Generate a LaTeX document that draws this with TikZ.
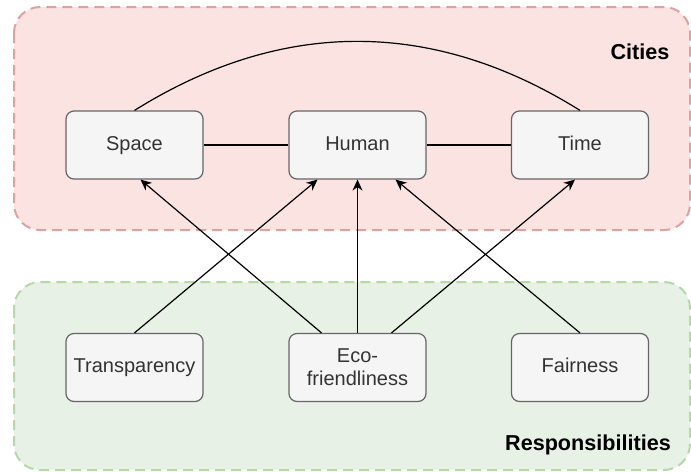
\documentclass[tikz,border=0pt]{standalone}
\usepackage{xcolor}
\usepackage{fontspec}
\setmainfont{Liberation Sans}
\usepackage{tikz}
\usetikzlibrary{arrows.meta, calc}
\definecolor{boxfill}{HTML}{F5F5F5}
\definecolor{boxline}{HTML}{666666}
\definecolor{boxtext}{HTML}{333333}
\definecolor{cityfill}{HTML}{FBE3E2}
\definecolor{cityline}{HTML}{DAA3A1}
\definecolor{respfill}{HTML}{E7F1E5}
\definecolor{respline}{HTML}{B7D7A8}
\tikzset{box/.style={draw=boxline, fill=boxfill, text=boxtext, rounded corners=4pt, minimum width=68.5pt, minimum height=34pt, line width=0.6pt, align=center, inner sep=1pt, text height=7.2pt, text depth=2pt, font=\fontsize{10}{11.5}\selectfont}}
\tikzset{grp/.style={rounded corners=13pt, line width=1pt, dash pattern=on 5pt off 3pt}}
\tikzset{tag/.style={font=\fontsize{10.8}{13}\selectfont\bfseries}}
\tikzset{link/.style={line width=0.6pt}, arr/.style={link, -{Stealth[length=5.5pt,width=5pt]}}}

\begin{document}
\begin{tikzpicture}[x=0.5pt,y=-0.5pt]
\useasboundingbox (0,0) rectangle (691,472);
% groups
\draw[grp, draw=cityline, fill=cityfill] (14,7) rectangle (690,230);
\draw[grp, draw=respline, fill=respfill] (14,282) rectangle (690,470);
\node[tag] (cities) at (640,52) {Cities};
\node[tag] (resp) at (588,445) {Responsibilities};
% city nodes
\node[box] (space) at (134.5,145) {Space};
\node[box] (human) at (357.5,145) {Human};
\node[box] (time) at (580,145) {Time};
% responsibility nodes
\node[box] (transp) at (134.5,367.5) {Transparency};
\node[box, text height=, text depth=] (eco) at (357.5,367.5) {Eco-\\friendliness};
\node[box] (fair) at (580,367.5) {Fairness};
% links
\draw[link] (space) -- (human);
\draw[link] (human) -- (time);
\draw[link] (space.north) to[out=32, in=148] (time.north);
\draw[arr] (transp.north) -- ([xshift=-20pt]human.south);
\draw[arr] ([xshift=-18pt]eco.north) -- ([xshift=3pt]space.south);
\draw[arr] (eco.north) -- (human.south);
\draw[arr] ([xshift=17pt]eco.north) -- ([xshift=-2.5pt]time.south);
\draw[arr] (fair.north) -- ([xshift=19pt]human.south);
\end{tikzpicture}
\end{document}
